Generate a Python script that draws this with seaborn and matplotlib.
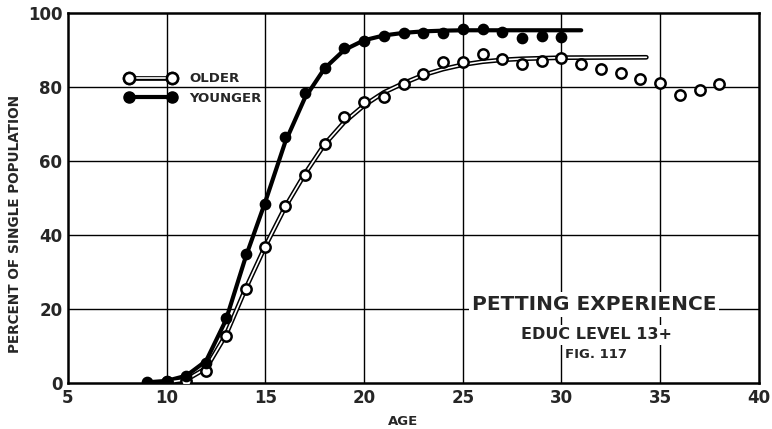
import matplotlib
matplotlib.use("Agg")
import matplotlib.pyplot as plt
import seaborn as sns
import pandas as pd
from matplotlib.lines import Line2D
from matplotlib.legend_handler import HandlerTuple

# ---- data ----
older_age = [10, 11, 12, 13, 14, 15, 16, 17, 18, 19, 20, 21, 22, 23, 24, 25, 26, 27, 28, 29, 30,
             31, 32, 33, 34, 35, 36, 37, 38]
older_pct = [0.3, 0.5, 3.2, 12.8, 25.4, 36.7, 47.8, 56.2, 64.6, 72.0, 75.9, 77.4, 80.7, 83.5, 86.8,
             86.8, 89.0, 87.5, 86.2, 87.0, 87.8, 86.2, 84.9, 83.7, 82.1, 81.0, 77.8, 79.2, 80.8]
younger_age = [9, 10, 11, 12, 13, 14, 15, 16, 17, 18, 19, 20, 21, 22, 23, 24, 25, 26, 27, 28, 29, 30]
younger_pct = [0.2, 0.5, 1.9, 5.5, 17.5, 34.9, 48.4, 66.4, 78.4, 85.2, 90.4, 92.4, 93.8, 94.6, 94.6,
               94.6, 95.6, 95.6, 94.8, 93.2, 93.8, 93.5]

# fitted (smoothed) curves as drawn
older_fit_age = [10, 11, 12, 13, 14, 15, 16, 17, 18, 19, 20, 21, 22, 23, 24, 25, 26, 27, 28, 30, 34.3]
older_fit_pct = [0.2, 0.9, 4.0, 13.0, 25.5, 37.0, 47.5, 56.5, 64.5, 70.5, 75.0, 78.5, 81.0, 83.2,
                 84.8, 86.0, 86.8, 87.3, 87.6, 87.9, 88.0]
younger_fit_age = [9, 10, 11, 12, 13, 14, 15, 16, 17, 18, 19, 20, 21, 22, 23, 24, 25, 31]
younger_fit_pct = [0.2, 0.6, 2.0, 6.0, 17.0, 34.0, 49.0, 65.0, 77.0, 85.0, 90.0, 92.6, 93.9, 94.6,
                   95.0, 95.2, 95.3, 95.3]

x_ticks = [5, 10, 15, 20, 25, 30, 35, 40]
y_ticks = [0, 20, 40, 60, 80, 100]

sns.set_style("white")
plt.rcParams['font.family'] = ['DejaVu Sans']

fig = plt.figure(figsize=(7.72, 4.29), dpi=100)
ax = fig.add_axes([0.088, 0.107, 0.895, 0.863])

# grid
for xv in x_ticks[1:-1]:
    ax.axvline(xv, color="black", lw=1.0, zorder=0)
for yv in y_ticks[1:-1]:
    ax.axhline(yv, color="black", lw=1.0, zorder=0)

of = pd.DataFrame({"age": older_fit_age, "pct": older_fit_pct})
yf = pd.DataFrame({"age": younger_fit_age, "pct": younger_fit_pct})
sns.lineplot(data=of, x="age", y="pct", ax=ax, color="black", lw=3.4, zorder=3, sort=False)
sns.lineplot(data=of, x="age", y="pct", ax=ax, color="white", lw=1.2, zorder=3.1, sort=False)
sns.lineplot(data=yf, x="age", y="pct", ax=ax, color="black", lw=3.0, zorder=3, sort=False)

od = pd.DataFrame({"age": older_age, "pct": older_pct})
yd = pd.DataFrame({"age": younger_age, "pct": younger_pct})
sns.scatterplot(data=od, x="age", y="pct", ax=ax, marker="o", s=55, facecolor="white",
                edgecolor="black", linewidth=1.8, zorder=4)
sns.scatterplot(data=yd, x="age", y="pct", ax=ax, marker="o", s=55, color="black",
                edgecolor="black", linewidth=1.0, zorder=5)

ax.set_xlim(5, 40)
ax.set_ylim(0, 100)
ax.set_xticks(x_ticks)
ax.set_yticks(y_ticks)
ax.set_xticklabels([str(v) for v in x_ticks], fontsize=12, fontweight="bold")
ax.set_yticklabels([str(v) for v in y_ticks], fontsize=12, fontweight="bold")
ax.tick_params(axis="both", length=0, pad=4)
for sp in ax.spines.values():
    sp.set_color("black")
    sp.set_linewidth(1.8)
ax.set_xlabel("AGE", fontsize=9.5, fontweight="bold", labelpad=0)
ax.xaxis.set_label_coords(0.485, -0.085)
ax.set_ylabel("PERCENT OF SINGLE POPULATION", fontsize=9.8, fontweight="bold", labelpad=6)
ax.yaxis.set_label_coords(-0.066, 0.43)

# legend
h_old_out = Line2D([], [], color="black", lw=3.4, marker="o", markersize=8,
                   markerfacecolor="white", markeredgecolor="black", markeredgewidth=1.8)
h_old_in = Line2D([], [], color="white", lw=1.2)
h_old_mk = Line2D([], [], color="none", lw=0, marker="o", markersize=8,
                  markerfacecolor="white", markeredgecolor="black", markeredgewidth=1.8)
h_young = Line2D([], [], color="black", lw=3.0, marker="o", markersize=8,
                 markerfacecolor="black", markeredgecolor="black")
leg = ax.legend([(h_old_out, h_old_in, h_old_mk), h_young], ["OLDER", "YOUNGER"],
                handler_map={tuple: HandlerTuple(ndivide=1, pad=0)},
                loc="upper left", bbox_to_anchor=(0.065, 0.872), frameon=False,
                numpoints=2, handlelength=3.9, handletextpad=1.0, labelspacing=0.5,
                prop={"weight": "bold", "size": 9.5})

# title block
ax.text(31.65, 21.2, "PETTING EXPERIENCE", fontsize=14.5, fontweight="bold", ha="center",
        va="center", zorder=6,
        bbox=dict(facecolor="white", edgecolor="none", pad=2))
ax.text(31.75, 13.0, "EDUC LEVEL 13+", fontsize=11.5, fontweight="bold", ha="center",
        va="center", zorder=6,
        bbox=dict(facecolor="white", edgecolor="none", pad=1.5))
ax.text(31.75, 7.6, "FIG. 117", fontsize=9.5, fontweight="bold", ha="center",
        va="center", zorder=6,
        bbox=dict(facecolor="white", edgecolor="none", pad=1))

fig.savefig("out.png", dpi=100)
